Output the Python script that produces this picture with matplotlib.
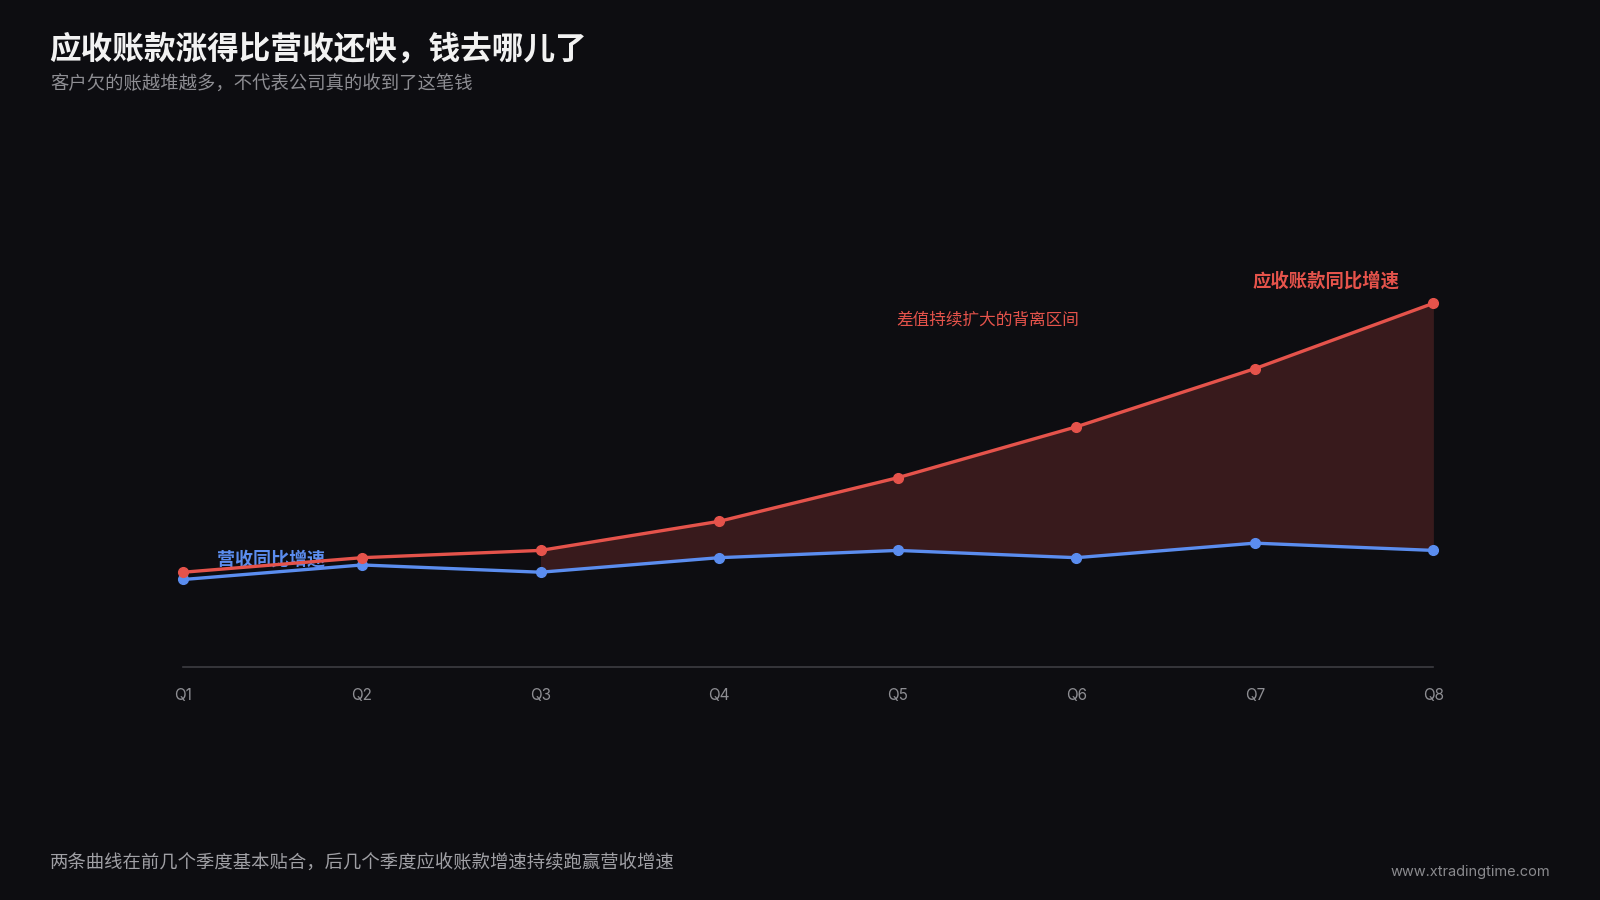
import matplotlib
matplotlib.use("Agg")
import matplotlib.pyplot as plt

# data
quarters = ['Q1', 'Q2', 'Q3', 'Q4', 'Q5', 'Q6', 'Q7', 'Q8']
receivables_growth = [13, 15, 16, 20, 26, 33, 41, 50]
revenue_growth = [12, 14, 13, 15, 16, 15, 17, 16]
gap_start = 2  # shading starts at Q3

BG = '#0d0d11'
RED = '#e5534b'
BLUE = '#5b8def'

plt.rcParams['font.family'] = ['Noto Sans CJK SC', 'DejaVu Sans']


def main():
    fig = plt.figure(figsize=(16, 9), dpi=100)
    fig.set_facecolor(BG)

    ax = fig.add_axes([0.1146, 0.2592, 0.78125, 0.4846])
    ax.set_facecolor(BG)
    x = list(range(len(quarters)))

    #   shaded gap between the two lines
    ax.fill_between(x[gap_start:], receivables_growth[gap_start:], revenue_growth[gap_start:],
                    color=RED, alpha=0.2, linewidth=0, zorder=1)

    ax.plot(x, revenue_growth, color=BLUE, linewidth=2.4, marker='o', markersize=7,
            clip_on=False, zorder=3)
    ax.plot(x, receivables_growth, color=RED, linewidth=2.4, marker='o', markersize=7,
            clip_on=False, zorder=4)

    ax.set_xlim(0, 7)
    ax.set_ylim(0, 60)
    ax.set_xticks(x)
    ax.set_xticklabels(quarters, family=['Inter', 'DejaVu Sans'])
    ax.set_yticks([])
    ax.tick_params(axis='x', length=0, pad=15, labelsize=11, labelcolor='#8e8e93')
    for side in ['top', 'right', 'left']:
        ax.spines[side].set_visible(False)
    ax.spines['bottom'].set_color('#3c3c42')
    ax.spines['bottom'].set_linewidth(1.2)

    #   line labels inside the chart
    ax.text(0.19, 14.8, '营收同比增速', color=BLUE, fontsize=13, fontweight='bold',
            ha='left', va='center', zorder=3.5)
    ax.text(6.81, 53.1, '应收账款同比增速', color=RED, fontsize=13.2, fontweight='bold',
            ha='right', va='center')
    ax.text(3.99, 47.7, '差值持续扩大的背离区间', color=RED, fontsize=12,
            ha='left', va='center')

    #   title, subtitle, footer
    fig.text(49 / 1600, 1 - 50 / 900, '应收账款涨得比营收还快，钱去哪儿了', color='#f2f2f2',
             fontsize=22.8, fontweight='bold', ha='left', va='center')
    fig.text(50 / 1600, 1 - 85 / 900, '客户欠的账越堆越多，不代表公司真的收到了这笔钱', color='#8e8e93',
             fontsize=13.2, ha='left', va='center')
    fig.text(50 / 1600, 1 - 864 / 900, '两条曲线在前几个季度基本贴合，后几个季度应收账款增速持续跑赢营收增速',
             color='#a0a0a5', fontsize=13.2, ha='left', va='center')
    fig.text(1550 / 1600, 1 - 872 / 900, 'www.xtradingtime.com', color='#8a8a8e',
             fontsize=10.5, family=['Inter', 'DejaVu Sans'], ha='right', va='center')

    fig.savefig('out.png', dpi=100, facecolor=BG)


if __name__ == '__main__':
    main()
